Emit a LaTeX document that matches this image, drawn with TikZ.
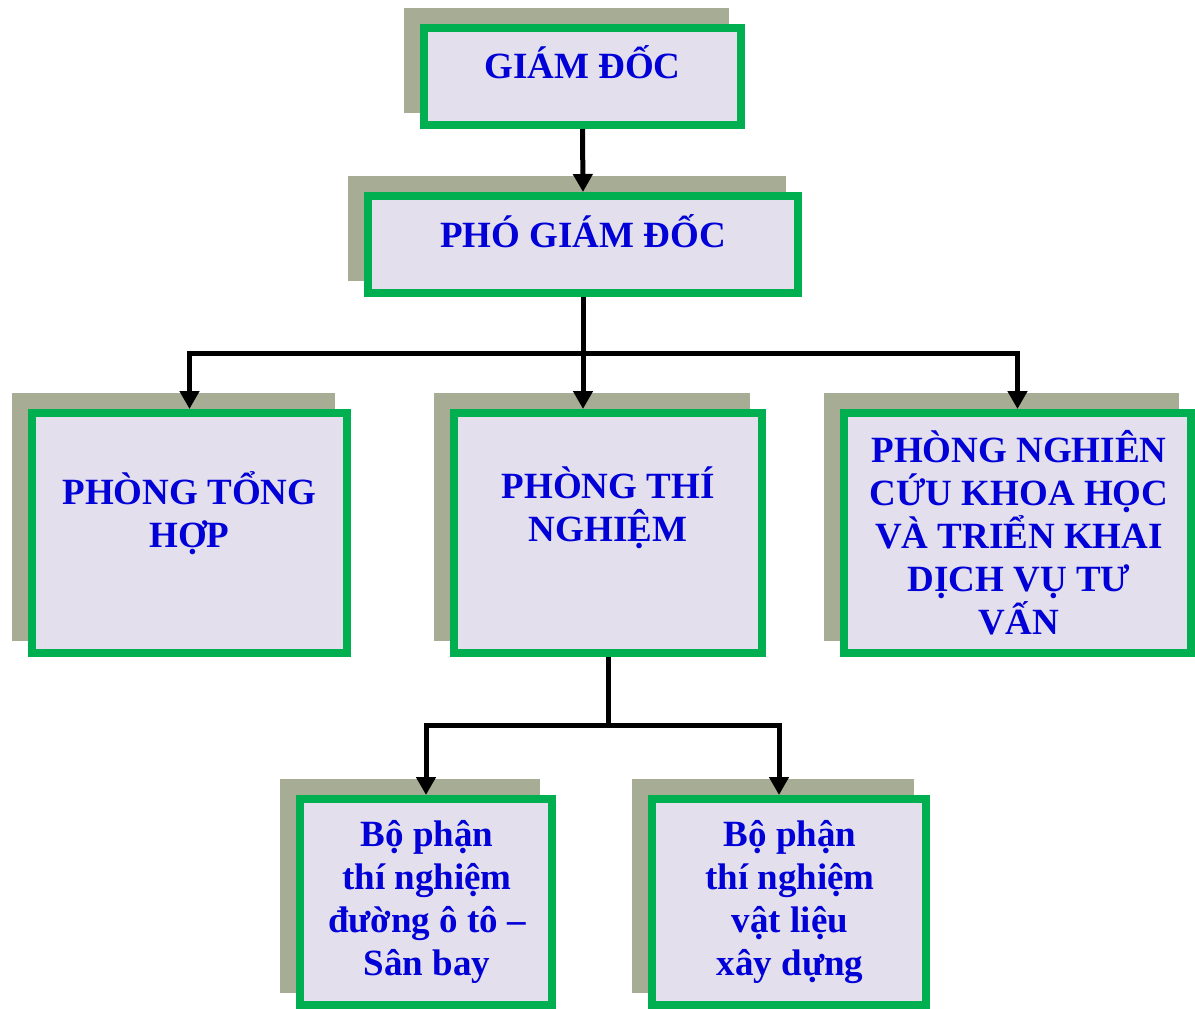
\documentclass[tikz,border=0pt]{standalone}
\usepackage{fontspec}
\setmainfont{Liberation Serif}
\usetikzlibrary{arrows.meta,positioning,shadows}
\definecolor{boxgreen}{RGB}{0,176,80}
\definecolor{boxfill}{RGB}{228,223,236}
\definecolor{shadowgray}{RGB}{166,173,148}
\definecolor{textblue}{RGB}{0,0,215}
\tikzset{
  unit/.style={draw=boxgreen, line width=8pt, fill=boxfill,
    drop shadow={shadow xshift=-16pt, shadow yshift=16pt, fill=shadowgray,
      draw=shadowgray, line width=8pt, opacity=1}},
  caption/.style={text=textblue, font=\bfseries\fontsize{37}{43}\selectfont,
    align=center, anchor=base, inner sep=0pt},
  link/.style={line width=5pt, -{Triangle[width=19pt,length=18pt]}}
}

\begin{document}
\begin{tikzpicture}[x=1pt,y=-1pt]
    \useasboundingbox (0,0) rectangle (1195,1009);

    % Director levels
    \node[unit, minimum width=317pt, minimum height=97pt] (gd) at (582.5,76.5) {};
    \node[caption] (gdtext) at (582.5,78) {GIÁM ĐỐC};
    \node[unit, minimum width=430pt, minimum height=97pt] (pgd) at (583,244.5) {};
    \node[caption] (pgdtext) at (583,247) {PHÓ GIÁM ĐỐC};

    % Departments (caption placed at baseline of last line)
    \node[unit, minimum width=315pt, minimum height=240pt] (th) at (189.5,533) {};
    \node[caption] (thtext) at (189.5,547) {PHÒNG TỔNG\\HỢP};
    \node[unit, minimum width=308pt, minimum height=240pt] (tn) at (608,533) {};
    \node[caption] (tntext) at (608,541) {PHÒNG THÍ\\NGHIỆM};
    \node[unit, minimum width=347pt, minimum height=240pt] (nc) at (1017.5,533) {};
    \node[caption] (nctext) at (1019,634) {PHÒNG NGHIÊN\\CỨU KHOA HỌC\\VÀ TRIỂN KHAI\\DỊCH VỤ TƯ\\VẤN};

    % Laboratory sections
    \node[unit, minimum width=252pt, minimum height=206pt] (b1) at (426,902) {};
    \node[caption] (b1text) at (427,975) {Bộ phận\\thí nghiệm\\đường ô tô –\\Sân bay};
    \node[unit, minimum width=274pt, minimum height=206pt] (b2) at (789,902) {};
    \node[caption] (b2text) at (790,975) {Bộ phận\\thí nghiệm\\vật liệu\\xây dựng};

    % Connectors
    \coordinate (split) at (583,353);
    \coordinate (split2) at (608,725);
    \draw[link] (gd.south) -- (pgd.north);
    \draw[link] (pgd.south) -- (split) -| (th.north);
    \draw[link] (pgd.south) -- (split) -| (nc.north);
    \draw[link] (pgd.south) -- (pgd.south |- tn.north);
    \draw[link] (tn.south) -- (split2) -| (b1.north);
    \draw[link] (tn.south) -- (split2) -| ([xshift=-10pt]b2.north);
\end{tikzpicture}
\end{document}
